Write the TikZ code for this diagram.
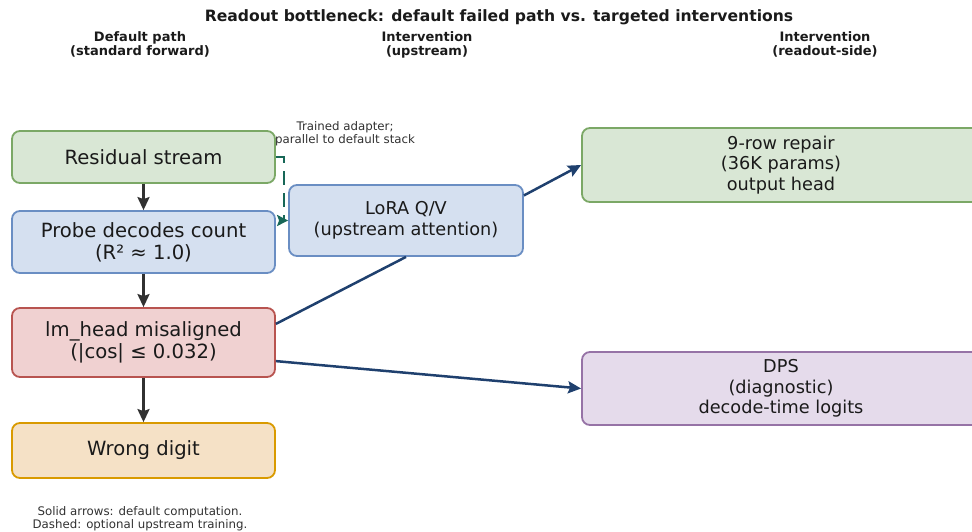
\documentclass[tikz,border=0pt]{standalone}
\usepackage{fontspec}
\setmainfont{DejaVu Sans}
\usetikzlibrary{arrows.meta}
\usepackage{xcolor}
\definecolor{grnfill}{HTML}{D9E7D5}
\definecolor{grnline}{HTML}{7BA866}
\definecolor{blufill}{HTML}{D5E0F0}
\definecolor{bluline}{HTML}{6A8EC3}
\definecolor{redfill}{HTML}{F0D1D1}
\definecolor{redline}{HTML}{B85450}
\definecolor{orgfill}{HTML}{F5E1C6}
\definecolor{orgline}{HTML}{D99A00}
\definecolor{purfill}{HTML}{E5DBEB}
\definecolor{purline}{HTML}{9673A6}
\definecolor{navy}{HTML}{1F406E}
\definecolor{teal}{HTML}{176757}
\definecolor{ink}{HTML}{1A1A1A}

\begin{document}
\begin{tikzpicture}[x=1pt,y=-1pt,
 box/.style={draw, rounded corners=8pt, line width=1.8pt, align=center, inner sep=0pt, text=ink,
  minimum width=263pt, font=\fontsize{19.6}{22}\selectfont},
 sidebox/.style={box, font=\fontsize{17.7}{20.5}\selectfont},
 head/.style={align=center, text=ink, font=\bfseries\fontsize{13}{14}\selectfont},
 note/.style={align=center, text=ink!90, font=\fontsize{11.8}{12.8}\selectfont},
 flow/.style={draw=ink!90, line width=2.5pt, -{Stealth[length=13pt,width=12pt,inset=2pt]}},
 hook/.style={draw=navy, line width=2.5pt}]
\clip (0,0) rectangle (972,531);
\node[head, font=\bfseries\fontsize{15.6}{17}\selectfont] (title) at (499,17) {Readout bottleneck: default failed path vs. targeted interventions};
\node[head] (hdefault) at (140,44.5) {Default path\\(standard forward)};
\node[head] (hup) at (427,44.5) {Intervention\\(upstream)};
\node[head] (hread) at (825,44.5) {Intervention\\(readout-side)};

\node[box, fill=grnfill, draw=grnline, minimum height=52pt] (res) at (143.5,157) {Residual stream};
\node[box, fill=blufill, draw=bluline, minimum height=62pt] (probe) at (143.5,242) {Probe decodes count\\(R² ≈ 1.0)};
\node[box, fill=redfill, draw=redline, minimum height=69pt] (lmh) at (143.5,342.5) {lm\_head misaligned\\(|cos| ≤ 0.032)};
\node[box, fill=orgfill, draw=orgline, minimum height=55pt] (wrong) at (143.5,450.5) {Wrong digit};

\node[sidebox, fill=blufill, draw=bluline, minimum width=234pt, minimum height=71pt] (lora) at (406,220.5) {LoRA Q/V\\(upstream attention)};
\node[sidebox, fill=grnfill, draw=grnline, minimum width=398pt, minimum height=74pt] (repair) at (781,165) {9-row repair\\(36K params)\\output head};
\node[sidebox, fill=purfill, draw=purline, minimum width=398pt, minimum height=73pt] (dps) at (781,388.5) {DPS\\(diagnostic)\\decode-time logits};

\foreach \a/\b in {res/probe, probe/lmh, lmh/wrong}
 \draw[flow] (\a) -- (\b);

\draw[flow, draw=teal, dash pattern=on 14pt off 8pt, line width=2.2pt, -{Stealth[length=11pt,width=11pt,inset=2pt]}] (res.east) -- ++(8,0) |- (lora.west);
\node[note] (adapter) at (345,133.5) {Trained adapter;\\parallel to default stack};

\draw[flow, draw=navy] (lora.12) -- (repair.west);
\draw[hook] (lmh.8) -- (lora.south);
\draw[flow, draw=navy] (lmh.-8) -- (dps.west);

\node[note] (legend) at (140,519) {Solid arrows: default computation.\\Dashed: optional upstream training.};
\end{tikzpicture}
\end{document}
